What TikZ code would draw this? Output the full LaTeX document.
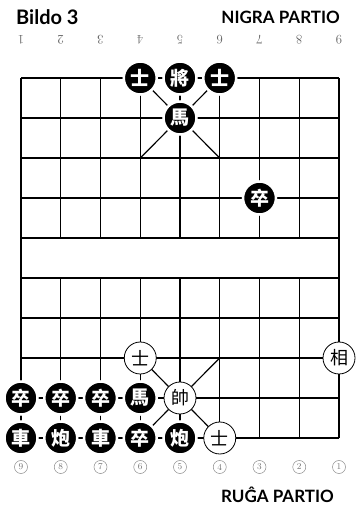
\documentclass[tikz,border=0pt]{standalone}
\usepackage{fontspec}
\newfontfamily\cjk{Noto Sans CJK TC}
\newfontfamily\headfont{Lato}
\usetikzlibrary{positioning}

\begin{document}
\begin{tikzpicture}[
      x = 1pt, y = 1pt,
      grid/.style  = {black, line width = 1.2pt},
      blk/.style   = {circle, fill = black, draw = white, line width = 2.5pt,
                      minimum size = 33pt, inner sep = 0pt, text = white,
                      font = \cjk\bfseries\fontsize{19}{19}\selectfont},
      wht/.style   = {circle, fill = white, draw = black, line width = .8pt,
                      minimum size = 32pt, inner sep = 0pt, text = black,
                      font = \cjk\fontsize{18}{18}\selectfont},
      head/.style  = {font = \headfont\bfseries\fontsize{17}{17}\selectfont, inner sep = 0pt},
      topnum/.style= {font = \fontsize{13}{13}\selectfont, text = black!60, rotate = 180, inner sep = 0pt},
      botnum/.style= {circle, draw = black!45, line width = .5pt, minimum size = 13pt,
                      inner sep = 0pt, text = black!55, font = \fontsize{9}{9}\selectfont}
    ]
  \clip (0,0) rectangle (356,506);

  % ---------- headings and numbers -------------------------------------
  \node[head, anchor = west, font = \headfont\bfseries\fontsize{20}{20}\selectfont]
        (bildo) at (16,489) {Bildo 3};
  \node[head, anchor = east] (nigra) at (340,489) {NIGRA PARTIO};
  \node[head, anchor = south east] (ruga) at (334,3) {RUĜA PARTIO};

  \foreach \c in {1,...,9}
    \node[topnum] (top\c) at ({21+39.75*(\c-1)},466) {\c};
  \foreach \c in {1,...,9}
    \node[botnum] (bot\c) at ({21+39.75*(9-\c)},39) {\c};

  % ---------- board ------------------------------------------------------
  \foreach \r in {0,...,9} \draw[grid] (21,{428-40*\r}) -- (339,{428-40*\r});
  \foreach \c in {0,8} \draw[grid] ({21+39.75*\c},428) -- ({21+39.75*\c},68);
  \foreach \c in {1,...,7} {
    \draw[grid] ({21+39.75*\c},428) -- ({21+39.75*\c},268);
    \draw[grid] ({21+39.75*\c},228) -- ({21+39.75*\c},68);
  }
  % palaces
  \draw[grid] (140.25,428) -- (219.75,348);
  \draw[grid] (219.75,428) -- (140.25,348);
  \draw[grid] (140.25,148) -- (219.75,68);
  \draw[grid] (219.75,148) -- (140.25,68);

  % ---------- black pieces -----------------------------------------------
  \foreach \c/\r/\t/\n in {3/0/士/bs1, 4/0/將/bj, 5/0/士/bs2, 4/1/馬/bm1,
                           6/3/卒/bz1, 0/8/卒/bz2, 1/8/卒/bz3, 2/8/卒/bz4,
                           3/8/馬/bm2, 0/9/車/bc1, 1/9/炮/bp1, 2/9/車/bc2,
                           3/9/卒/bz5, 4/9/炮/bp2}
    \node[blk] (\n) at ({21+39.75*\c},{428-40*\r}) {\t};

  % ---------- red pieces -------------------------------------------------
  \foreach \c/\r/\t/\n in {3/7/士/rs1, 8/7/相/rx, 4/8/帥/rsh, 5/9/士/rs2}
    \node[wht] (\n) at ({21+39.75*\c},{428-40*\r}) {\t};

\end{tikzpicture}
\end{document}
